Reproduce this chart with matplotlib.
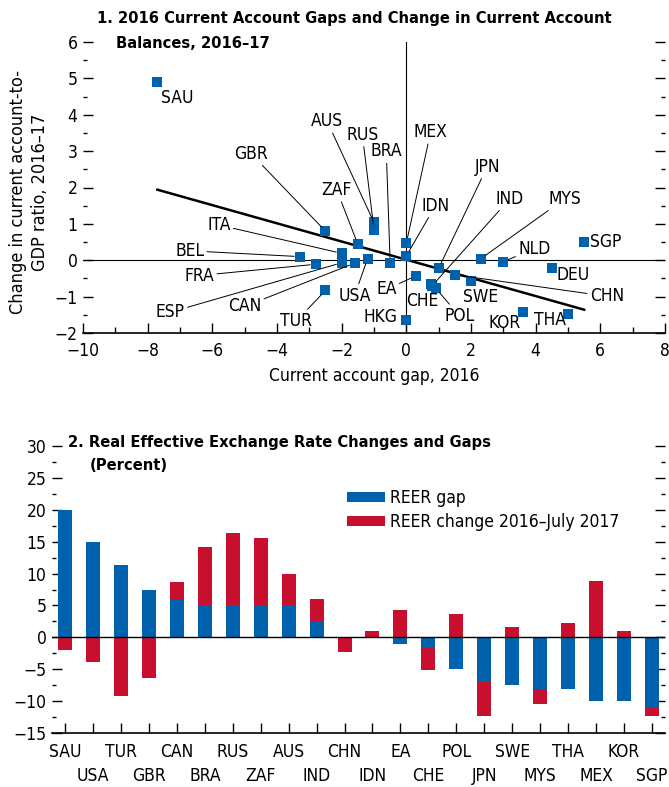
import numpy as np
import matplotlib.pyplot as plt
from matplotlib.ticker import MultipleLocator

plt.rcParams['font.family'] = ['DejaVu Sans Condensed', 'Liberation Sans Narrow', 'DejaVu Sans']
plt.rcParams['font.stretch'] = 'condensed'

BLUE = "#0062AD"
RED = "#C8102E"
FS = 12.5
TITLE_FS = 11.8

# --- panel 1: current account gap vs change in CA balance ---
ca_countries = ["SAU", "GBR", "AUS", "RUS", "ZAF", "BRA", "MEX", "IDN", "ITA", "ESP",
                "CAN", "USA", "BEL", "FRA", "TUR", "EA", "CHE", "IND", "POL", "JPN",
                "CHN", "SWE", "MYS", "NLD", "DEU", "SGP", "KOR", "THA", "HKG"]
ca_gap = [-7.7, -2.5, -1.0, -1.0, -1.5, -0.5, 0.0, 0.0, -2.0, -2.0,
          -1.6, -1.2, -3.3, -2.8, -2.5, 0.3, 0.77, 0.8, 0.91, 1.0,
          1.5, 2.0, 2.3, 3.0, 4.5, 5.5, 3.6, 5.0, 0.0]
ca_change = [4.9, 0.8, 1.04, 0.84, 0.44, -0.08, 0.47, 0.12, 0.19, -0.07,
             -0.08, 0.04, 0.1, -0.11, -0.83, -0.43, -0.66, -0.7, -0.77, -0.22,
             -0.4, -0.57, 0.04, -0.04, -0.22, 0.5, -1.43, -1.47, -1.63]
fit_slope = -0.25
fit_intercept = 0.015

# label placement (data coords); some labels have no leader line
label_pos = {
    "SAU": (-7.1, 4.45), "GBR": (-4.8, 2.93), "AUS": (-2.45, 3.82), "RUS": (-1.36, 3.45),
    "BRA": (-0.62, 2.99), "MEX": (0.75, 3.52), "JPN": (2.5, 2.57), "ZAF": (-2.15, 1.93),
    "IDN": (0.9, 1.5), "IND": (3.2, 1.69), "MYS": (4.9, 1.69), "ITA": (-5.8, 0.97),
    "BEL": (-6.7, 0.26), "FRA": (-6.4, -0.42), "ESP": (-7.3, -1.43), "CAN": (-5.0, -1.27),
    "TUR": (-3.4, -1.67), "USA": (-1.6, -0.97), "EA": (-0.62, -0.8), "HKG": (-0.8, -1.55),
    "CHE": (0.48, -1.13), "POL": (1.64, -1.53), "SWE": (2.3, -1.0), "KOR": (3.03, -1.73),
    "THA": (4.45, -1.64), "CHN": (6.2, -0.99), "DEU": (5.16, -0.41), "NLD": (3.96, 0.32),
    "SGP": (6.16, 0.49),
}
no_leader = {"SAU", "HKG", "CHE", "SWE", "KOR", "THA", "DEU", "SGP"}

# --- panel 2: REER gaps and changes ---
reer_countries = ["SAU", "USA", "TUR", "GBR", "CAN", "BRA", "RUS", "ZAF", "AUS", "IND", "CHN",
                  "IDN", "EA", "CHE", "POL", "JPN", "SWE", "MYS", "THA", "MEX", "KOR", "SGP"]
reer_gap = [20.0, 15.0, 11.3, 7.4, 6.0, 5.0, 5.0, 5.0, 5.0, 2.5, 0.0,
            0.0, -1.0, -1.5, -4.9, -7.0, -7.5, -8.1, -8.1, -10.0, -10.0, -11.0]
reer_change = [-2.0, -3.8, -9.2, -6.3, 2.7, 9.1, 11.3, 10.6, 4.9, 3.5, -2.3,
               1.0, 4.3, -3.6, 3.7, -5.4, 1.6, -2.4, 2.3, 8.8, 1.0, -1.3]

W, H = 669, 787
fig = plt.figure(figsize=(W / 100, H / 100), dpi=100)


def px_axes(left, right, top, bottom):
    return fig.add_axes([left / W, 1 - bottom / H, (right - left) / W, (bottom - top) / H])


def style_axes(ax):
    for s in ["top", "left", "right"]:
        ax.spines[s].set_visible(False)
    ax.spines["bottom"].set_linewidth(1.2)
    ax.tick_params(axis="y", which="both", direction="in", left=True, right=True,
                   labelsize=FS, pad=4, width=1)
    ax.tick_params(axis="y", which="major", length=7)
    ax.tick_params(axis="y", which="minor", length=3)
    ax.tick_params(axis="x", which="both", direction="in", labelsize=FS, width=1)


# panel 1
ax1 = px_axes(83, 665, 42, 333)
ax1.set_xlim(-10, 8)
ax1.set_ylim(-2, 6)
style_axes(ax1)
ax1.xaxis.set_major_locator(MultipleLocator(2))
ax1.xaxis.set_minor_locator(MultipleLocator(1))
ax1.yaxis.set_major_locator(MultipleLocator(1))
ax1.yaxis.set_minor_locator(MultipleLocator(0.5))
ax1.tick_params(axis="x", which="major", length=7, pad=6.5)
ax1.tick_params(axis="x", which="minor", length=4)
ax1.axhline(0, color="black", lw=0.8, zorder=1)
ax1.axvline(0, color="black", lw=0.8, zorder=1)

xs = np.array([min(ca_gap), max(ca_gap)])
ax1.plot(xs, fit_slope * xs + fit_intercept, color="black", lw=1.8, zorder=2)
ax1.plot(ca_gap, ca_change, "s", color=BLUE, ms=7, mew=0, zorder=3)

for name, gx, gy in zip(ca_countries, ca_gap, ca_change):
    tx, ty = label_pos[name]
    if name in no_leader:
        ax1.text(tx, ty, name, ha="center", va="center", fontsize=FS, zorder=4)
    else:
        ax1.annotate(name, xy=(gx, gy), xytext=(tx, ty), ha="center", va="center",
                     fontsize=FS, zorder=4,
                     arrowprops=dict(arrowstyle="-", color="black", lw=0.7,
                                     shrinkA=0, shrinkB=4))

ax1.set_xlabel("Current account gap, 2016", fontsize=FS, labelpad=5)
fig.text(29 / W, 1 - 192 / H, "Change in current account-to-\nGDP ratio, 2016\u201317",
         rotation=90, ha="center", va="center", fontsize=13, multialignment="center",
         linespacing=1.25)
fig.text(97 / W, 1 - 18 / H, "1. 2016 Current Account Gaps and Change in Current Account",
         fontsize=TITLE_FS, fontweight="bold", ha="left", va="center")
fig.text(116 / W, 1 - 43 / H, "Balances, 2016\u201317",
         fontsize=TITLE_FS, fontweight="bold", ha="left", va="center")

# panel 2
ax2 = px_axes(52, 665, 446, 733)
ax2.set_xlim(-0.47, len(reer_countries) - 0.53)
ax2.set_ylim(-15, 30)
style_axes(ax2)
ax2.yaxis.set_major_locator(MultipleLocator(5))
ax2.yaxis.set_minor_locator(MultipleLocator(2.5))

gap = np.array(reer_gap)
chg = np.array(reer_change)
pos = np.arange(len(reer_countries))
same_sign = np.sign(gap) == np.sign(chg)
chg_bottom = np.where(same_sign, gap, 0.0)
ax2.bar(pos, gap, width=0.5, color=BLUE, label="REER gap", zorder=2)
ax2.bar(pos, chg, width=0.5, bottom=chg_bottom, color=RED,
        label="REER change 2016\u2013July 2017", zorder=2)
ax2.axhline(0, color="black", lw=1.0, zorder=3)

# two staggered rows of category labels
ax2.set_xticks(pos[::2], reer_countries[::2])
ax2.set_xticks(pos[1::2], reer_countries[1::2], minor=True)
ax2.tick_params(axis="x", which="major", length=7, pad=7)
ax2.tick_params(axis="x", which="minor", length=7, pad=24.5)

ax2.legend(loc="upper left", bbox_to_anchor=(0.481, 0.85), frameon=False, fontsize=FS,
           handlelength=2.2, handleheight=0.55, handletextpad=0.3, labelspacing=0.35,
           borderaxespad=0, borderpad=0)

fig.text(68 / W, 1 - 442 / H, "2. Real Effective Exchange Rate Changes and Gaps",
         fontsize=TITLE_FS, fontweight="bold", ha="left", va="center")
fig.text(90 / W, 1 - 465 / H, "(Percent)",
         fontsize=TITLE_FS, fontweight="bold", ha="left", va="center")

fig.savefig("out.png", dpi=100)
